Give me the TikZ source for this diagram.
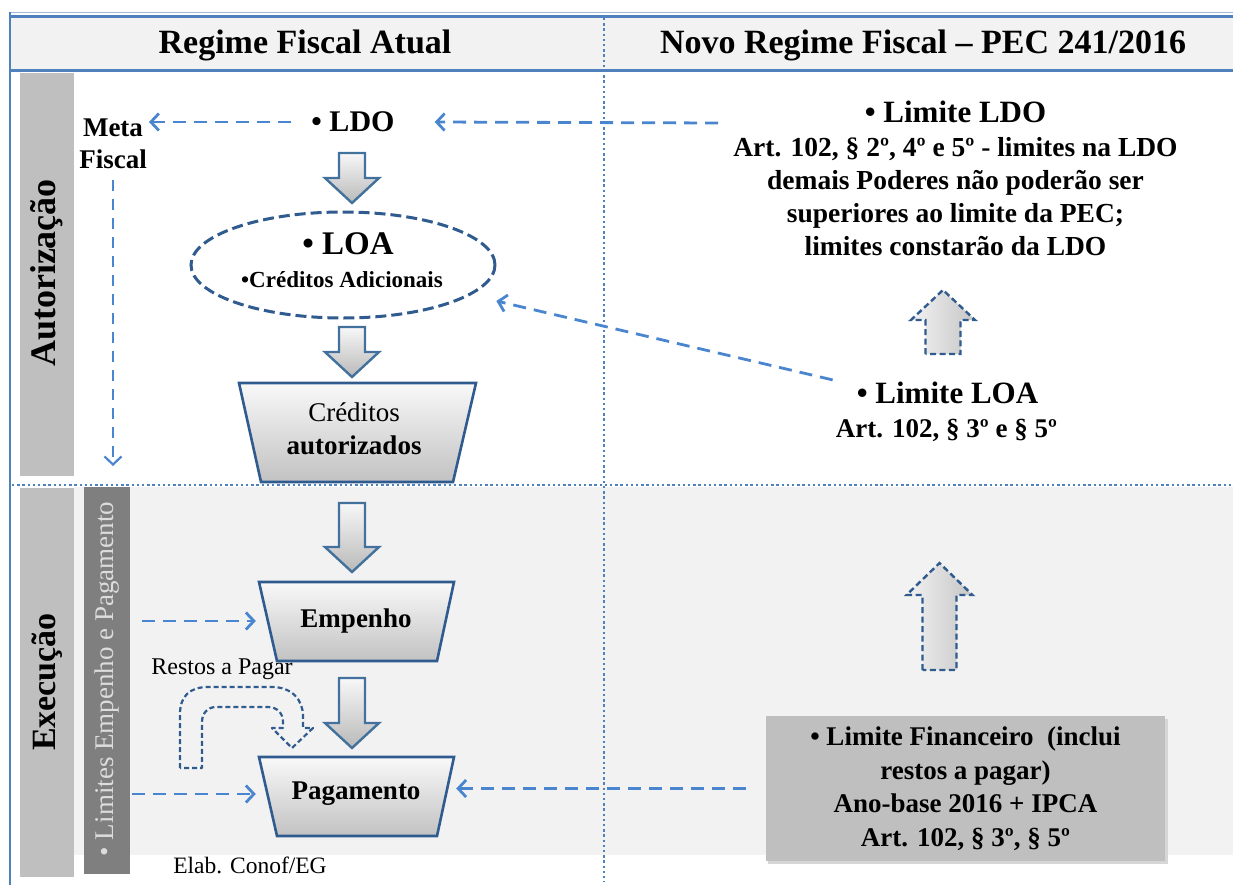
\documentclass[tikz,border=0pt]{standalone}
\usepackage{fontspec}
\setmainfont{Liberation Serif}
\usetikzlibrary{arrows.meta,shapes.geometric,calc}
\definecolor{frameblue}{HTML}{4F81BD}
\definecolor{connblue}{HTML}{4A86CF}
\definecolor{darkblue}{HTML}{2F5B8F}
\definecolor{arrowblue}{HTML}{41719C}
\definecolor{bandgray}{HTML}{F2F2F2}
\definecolor{bargray}{HTML}{BFBFBF}
\definecolor{darkbar}{HTML}{7F7F7F}
\definecolor{bartext}{HTML}{DCDCDC}
\definecolor{shadowgray}{HTML}{D6D6D6}
\newcommand\fsz[2]{\fontsize{#1}{#2}\selectfont}
\newcommand\blkdown[3]{%
  \path[blk] (#1-13,#2) -- (#1+13,#2) -- (#1+13,#3-25) -- (#1+27,#3-25) -- (#1,#3) -- (#1-27,#3-25) -- (#1-13,#3-25) -- cycle;}
\newcommand\blkup[6]{%
  \path[dblk] (#1-#5,#4) -- (#1-#5,#3) -- (#1-#6,#3) -- (#1,#2) -- (#1+#6,#3) -- (#1+#5,#3) -- (#1+#5,#4) -- cycle;}
\begin{document}
\begin{tikzpicture}[x=1pt,y=-1pt,
  conn/.style={draw=connblue, line width=2.8pt, dash pattern=on 13pt off 8pt, -{Straight Barb[length=8pt,width=17pt]}},
  txt/.style={inner sep=2pt, text=black},
  blk/.style={draw=arrowblue, line width=2.4pt, top color=gray!6, bottom color=gray!55},
  trap/.style={draw=darkblue, line width=2.6pt, top color=gray!5, bottom color=gray!48},
  dblk/.style={draw=darkblue, line width=2.4pt, dash pattern=on 6pt off 3.5pt, left color=gray!10, right color=gray!45},
  dotline/.style={draw=frameblue, line width=2.4pt, dash pattern=on 2.4pt off 2.8pt},
]
\useasboundingbox (0,0) rectangle (1238,886);
\fill[white] (0,0) rectangle (1238,886);
% header band
\fill[bandgray] (10,16) rectangle (1233,70);
\draw[frameblue!55, line width=1pt] (10,12.5) -- (1233,12.5);
\draw[frameblue, line width=3pt] (10,16.5) -- (1233,16.5);
\draw[frameblue, line width=3pt] (10,70) -- (1233,70);
% lower background
\fill[bandgray] (74,487) rectangle (1233,855);
% left bars
\fill[bargray] (20,73) rectangle (74,476);
\fill[bargray] (20,488) rectangle (74,877);
\fill[darkbar] (84,487) rectangle (130,874);
% frame left line
\draw[frameblue, line width=1.2pt] (10,12) -- (10,885);
% dotted separators
\draw[dotline] (604,18) -- (604,882);
\draw[dotline] (12,485) -- (1233,485);

% trapezoids
\path[trap] (239,383) -- (476,383) -- (453,482) -- (261,482) -- cycle;
\path[trap] (259,582) -- (454,582) -- (437,661) -- (277,661) -- cycle;
\path[trap] (259,757) -- (454,757) -- (437,836) -- (277,836) -- cycle;

% block arrows
\blkdown{352}{153}{203}
\blkdown{352}{327}{377}
\blkdown{352}{503}{572}
\blkdown{352}{678}{748}
\blkup{943}{290}{320}{354}{17.5}{32}
\blkup{939.5}{563}{595}{670}{17}{33}

% Restos a pagar U-turn arrow
\path[draw=darkblue, line width=2.2pt, dash pattern=on 5pt off 3pt, line join=round]
 (180,768) -- (180,714) .. controls (180,696) and (190,687) .. (208,687) -- (272,687)
 .. controls (292,687) and (303,700) .. (303,716) -- (303,728) -- (313,728) -- (292,748)
 -- (272,728) -- (283,728) -- (283,722) .. controls (283,713) and (277,707) .. (268,707)
 -- (216,707) .. controls (208,707) and (202,713) .. (202,722) -- (202,768) -- cycle;

% texts
\node[txt, font=\fsz{34}{40}\bfseries] (hleft) at (305,45) {Regime Fiscal Atual};
\node[txt, font=\fsz{34}{40}\bfseries] (hright) at (923,45) {Novo Regime Fiscal – PEC 241/2016};
\node[txt, rotate=90, font=\fsz{36}{40}\bfseries] (aut) at (47,273) {Autorização};
\node[txt, rotate=90, font=\fsz{34}{40}\bfseries] (exe) at (47,682) {Execução};
\node[txt, rotate=90, text=bartext, font=\fsz{27}{30}] (lim) at (107,679) {• Limites Empenho e Pagamento};

\node[txt, font=\fsz{30}{36}\bfseries] (ldo) at (353,122) {• LDO};
\node[txt, align=center, font=\fsz{27}{32}\bfseries] (meta) at (113,144) {Meta\\Fiscal};
\node[draw=darkblue, line width=3pt, dash pattern=on 11pt off 5pt, ellipse, minimum width=304pt, minimum height=106pt, inner sep=0pt] (loa) at (343,265) {};
\node[txt, font=\fsz{33}{40}\bfseries] (loat) at (348,244) {• LOA};
\node[txt, font=\fsz{23}{26}\bfseries] (cad) at (342,280) {•Créditos Adicionais};
\node[txt, align=center, font=\fsz{27}{33}] (cred) at (354,429) {Créditos\\\textbf{autorizados}};
\node[txt, font=\fsz{27}{32}\bfseries, minimum width=200pt] (emp) at (356,621) {Empenho};
\node[txt, font=\fsz{27}{32}\bfseries, minimum width=200pt] (pag) at (356,794) {Pagamento};
\node[txt, font=\fsz{24}{26}] (restos) at (222,669) {Restos a Pagar};
\node[txt, font=\fsz{23.5}{26}] (elab) at (250,865) {Elab. Conof/EG};

\node[txt, font=\fsz{31}{36}\bfseries] (limldo) at (955.5,112) {• Limite LDO};
\node[txt, align=center, font=\fsz{27.5}{33}\bfseries] (limldotxt) at (955.5,197) {Art. 102, § 2º, 4º e 5º - limites na LDO\\demais Poderes não poderão ser\\superiores ao limite da PEC;\\limites constarão da LDO};
\node[txt, font=\fsz{31}{36}\bfseries] (limloa) at (947.5,393) {• Limite LOA};
\node[txt, font=\fsz{27}{32}\bfseries] (limloaart) at (946.5,430) {Art. 102, § 3º e § 5º};
\fill[shadowgray] (768,719) rectangle (1168,864);
\node[fill=bargray, minimum width=399pt, minimum height=145pt, align=center, inner sep=0pt, font=\fsz{27}{33.5}\bfseries] (fin) at (965.5,788.5) {• Limite Financeiro\ \ (inclui\\restos a pagar)\\Ano-base 2016 + IPCA\\Art. 102, § 3º, § 5º};

% free ends
\coordinate (ldotail) at (718,123);
\coordinate (metaend) at (113,466);
\coordinate (empst) at (142,621);
\coordinate (pagst) at (132,794);

% connectors
\draw[conn] ([xshift=-18pt]ldo.west) -- (ldo.west -| meta.east);
\draw[conn] (ldotail) -- ([xshift=38pt]ldo.east);
\draw[conn, line width=2.2pt, dash pattern=on 11pt off 8pt] ([yshift=-9pt]meta.south) -- (metaend);
\draw[conn, shorten >=26pt] ([xshift=-22pt]limloa.north west) -- (loa);
\draw[conn] (empst) -- (emp.west);
\draw[conn] (pagst) -- (pag.west);
\draw[conn] ([xshift=-20pt]fin.west) -- (fin.west -| pag.east);
\end{tikzpicture}
\end{document}
